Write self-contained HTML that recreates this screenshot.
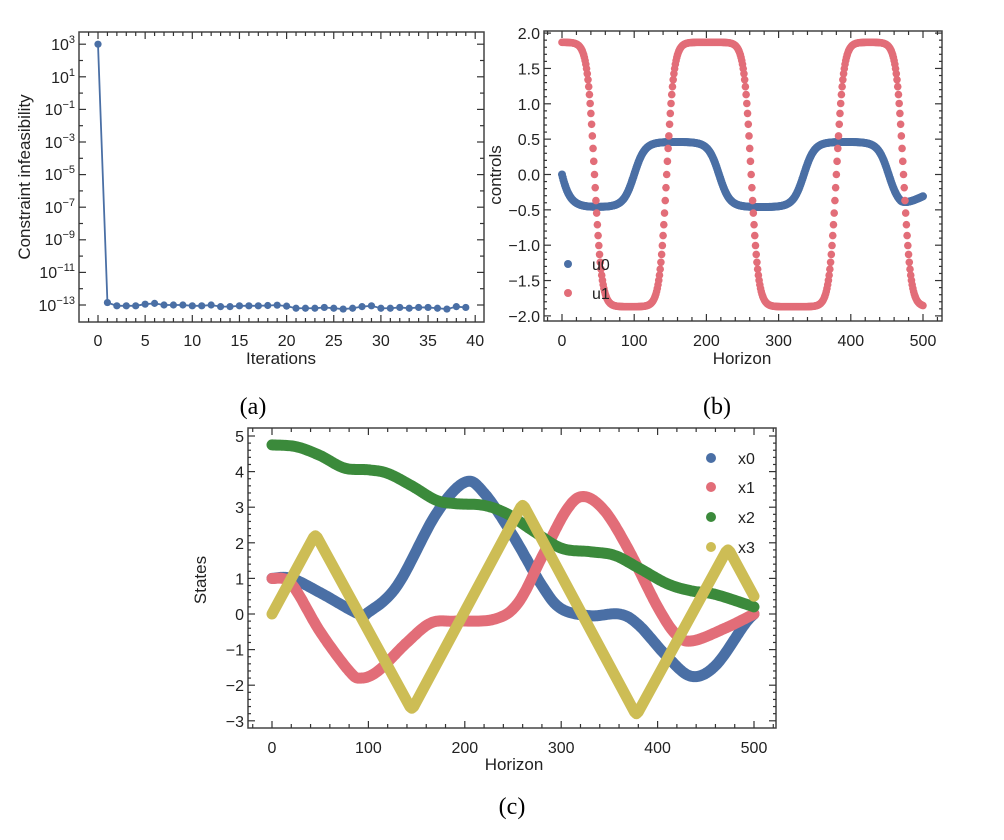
<!DOCTYPE html>
<html><head><meta charset="utf-8"><style>
body{margin:0;background:#fff;}
svg{display:block;font-family:"Liberation Sans","DejaVu Sans",sans-serif;}
.t{font-size:16px;fill:#222;}
.al{font-size:17px;fill:#222;}
.cap{font-family:"Liberation Serif",serif;font-size:24px;fill:#000;}
</style></head><body>
<svg id="s" width="1004" height="840" viewBox="0 0 1004 840" xmlns="http://www.w3.org/2000/svg">
<g class="t" text-anchor="end">
<text x="75" y="50">10<tspan dy="-7" font-size="11">3</tspan></text>
<text x="75" y="83">10<tspan dy="-7" font-size="11">1</tspan></text>
<text x="75" y="115">10<tspan dy="-7" font-size="11">−1</tspan></text>
<text x="75" y="148">10<tspan dy="-7" font-size="11">−3</tspan></text>
<text x="75" y="180">10<tspan dy="-7" font-size="11">−5</tspan></text>
<text x="75" y="213">10<tspan dy="-7" font-size="11">−7</tspan></text>
<text x="75" y="245">10<tspan dy="-7" font-size="11">−9</tspan></text>
<text x="75" y="278">10<tspan dy="-7" font-size="11">−11</tspan></text>
<text x="75" y="311">10<tspan dy="-7" font-size="11">−13</tspan></text>
</g>
<text class="al" x="30" y="177" text-anchor="middle" transform="rotate(-90 30 177)">Constraint infeasibility</text>
<text class="al" x="281" y="364" text-anchor="middle">Iterations</text>
<text class="cap" x="253" y="414" text-anchor="middle">(a)</text>
<text class="al" x="501" y="175" text-anchor="middle" transform="rotate(-90 501 175)">controls</text>
<text class="al" x="742" y="364" text-anchor="middle">Horizon</text>
<text class="cap" x="717" y="414" text-anchor="middle">(b)</text>
<text class="al" x="206" y="580" text-anchor="middle" transform="rotate(-90 206 580)">States</text>
<text class="al" x="514" y="770" text-anchor="middle">Horizon</text>
<text class="cap" x="512" y="814" text-anchor="middle">(c)</text>
<g id="dyn"></g>
</svg>
<script>
const NS="http://www.w3.org/2000/svg";
const g=document.getElementById('dyn');
function el(n,a,txt){const e=document.createElementNS(NS,n);for(const k in a)e.setAttribute(k,a[k]);if(txt!==undefined)e.textContent=txt;g.appendChild(e);return e;}
const BLUE="#4a6fa5",RED="#e26d78",GREEN="#3b8a3b",YEL="#cdbd55";
function frame(x0,y0,x1,y1){el('rect',{x:x0,y:y0,width:x1-x0,height:y1-y0,fill:'none',stroke:'#444','stroke-width':1.5});}
function xt(x,y0,y1,L){el('line',{x1:x,y1:y1,x2:x,y2:y1-L,stroke:'#333','stroke-width':1.2});el('line',{x1:x,y1:y0,x2:x,y2:y0+L,stroke:'#333','stroke-width':1.2});}
function yt(y,x0,x1,L){el('line',{x1:x0,y1:y,x2:x0+L,y2:y,stroke:'#333','stroke-width':1.2});el('line',{x1:x1,y1:y,x2:x1-L,y2:y,stroke:'#333','stroke-width':1.2});}
function label(x,y,s,anchor){el('text',{x:x,y:y,'class':'t','text-anchor':anchor},s);}

{const X=i=>98+i*9.43,Y=l=>305-(l+13)*16.3;
frame(79,32,484,322);
for(let i=-2;i<=41;i++){const x=X(i);if(x<80||x>483)continue;xt(x,32,322,i%5==0?7:4);}
for(let i=0;i<=40;i+=5)label(X(i),346,String(i),'middle');
for(let l=-14;l<=4;l++){const y=Y(l);if(y<33||y>321)continue;yt(y,79,484,l%2?7:4);}
const vals=[3];const off=[0.1,-0.1,-0.1,-0.1,0,0.05,-0.05,-0.05,-0.05,-0.1,-0.1,-0.05,-0.15,-0.15,-0.1,-0.1,-0.1,-0.08,-0.06,-0.12,-0.25,-0.25,-0.25,-0.2,-0.25,-0.3,-0.25,-0.15,-0.1,-0.25,-0.25,-0.2,-0.25,-0.2,-0.2,-0.25,-0.3,-0.15,-0.2];
for(const o of off)vals.push(-13+o+0.05);
el('polyline',{points:vals.map((v,i)=>X(i)+','+Y(v)).join(' '),fill:'none',stroke:BLUE,'stroke-width':1.8});
vals.forEach((v,i)=>el('circle',{cx:X(i),cy:Y(v),r:3.6,fill:BLUE}));}

{const X=t=>562+t*0.722,Y=v=>174.5-v*70.7;
frame(544,31,942,321);
for(let t=-20;t<=520;t+=20){const x=X(t);if(x<545||x>941)continue;xt(x,31,321,t%100==0?7:4);}
for(let t=0;t<=500;t+=100)label(X(t),346,String(t),'middle');
for(let v=-2;v<=2.01;v+=0.1){const y=Y(v);const maj=Math.abs(v*2-Math.round(v*2))<1e-6;yt(y,544,942,maj?7:3);}
[2,1.5,1,0.5,0,-0.5,-1,-1.5,-2].forEach(v=>label(540,Y(v)+6,(v<0?'−':'')+Math.abs(v).toFixed(1),'end'));
const cr=[45,145,262,380,473];
function u1(t){let k=0;while(k<cr.length&&t>cr[k])k++;const s=k%2==0?1:-1;let d=1e9;cr.forEach(c=>d=Math.min(d,Math.abs(t-c)));return 1.87*s*Math.tanh(d/10);}
function u0(t){const a=Math.tanh(2.5*Math.sin(2*Math.PI*(t-100)/235))/Math.tanh(2.5);let v=0.46*a*(1-Math.exp(-t/9));if(t>470)v+=(t-470)/30*0.15;return v;}
for(let t=0;t<=500;t++)el('circle',{cx:X(t),cy:Y(u0(t)),r:4,fill:BLUE});
for(let t=0;t<=500;t++)el('circle',{cx:X(t),cy:Y(u1(t)),r:3.8,fill:RED});
el('circle',{cx:568,cy:264,r:4,fill:BLUE});label(592,270,'u0','start');
el('circle',{cx:568,cy:293,r:4,fill:RED});label(592,299,'u1','start');}

{const X=t=>272+t*0.964,Y=v=>614-v*35.6;
frame(248,428,776,728);
for(let t=-20;t<=540;t+=20){const x=X(t);if(x<249||x>775)continue;xt(x,428,728,t%100==0?7:4);}
for(let t=0;t<=500;t+=100)label(X(t),753,String(t),'middle');
for(let v=-3;v<=5.01;v+=0.2){const y=Y(v);if(y<429||y>727)continue;const maj=Math.abs(v-Math.round(v))<1e-6;yt(y,248,776,maj?7:3);}
for(let v=-3;v<=5;v++)label(244,Y(v)+6,(v<0?'−':'')+Math.abs(v),'end');
function cat(P){const out=[];for(let i=0;i<P.length-1;i++){const p0=P[Math.max(0,i-1)],p1=P[i],p2=P[i+1],p3=P[Math.min(P.length-1,i+2)];for(let s=0;s<20;s++){const u=s/20,u2=u*u,u3=u2*u;const f=(a,b,c,d)=>0.5*((2*b)+(-a+c)*u+(2*a-5*b+4*c-d)*u2+(-a+3*b-3*c+d)*u3);out.push([f(p0[0],p1[0],p2[0],p3[0]),f(p0[1],p1[1],p2[1],p3[1])]);}}out.push(P[P.length-1]);return out;}
const S={
x0:[[0,1.0],[20,1.0],[50,0.6],[90,0],[100,0.05],[130,0.8],[170,2.8],[200,3.7],[220,3.4],[250,2.2],[280,0.8],[300,0.15],[330,-0.05],[360,0],[380,-0.3],[410,-1.2],[435,-1.75],[460,-1.45],[490,-0.3],[500,0]],
x1:[[0,1.0],[20,0.85],[50,-0.5],[80,-1.6],[92,-1.8],[110,-1.6],[140,-0.8],[165,-0.25],[190,-0.2],[230,-0.15],[255,0.3],[280,1.6],[305,2.9],[323,3.3],[345,2.9],[370,1.8],[400,0.2],[420,-0.6],[437,-0.75],[470,-0.4],[500,0]],
x2:[[0,4.75],[25,4.7],[50,4.45],[75,4.1],[100,4.05],[120,3.95],[145,3.6],[170,3.2],[190,3.1],[220,3.05],[245,2.8],[270,2.35],[300,1.85],[330,1.75],[355,1.65],[380,1.3],[410,0.85],[435,0.65],[460,0.55],[500,0.2]],
x3:[[0,0],[43,2.15],[45,2.2],[47,2.15],[143,-2.6],[145,-2.65],[147,-2.6],[258,3.0],[260,3.05],[262,3.0],[376,-2.75],[378,-2.8],[380,-2.75],[471,1.75],[473,1.8],[475,1.75],[500,0.5]]};
const C={x0:BLUE,x1:RED,x2:GREEN,x3:YEL};
for(const k of ['x0','x1','x2','x3']){const P=k=='x3'?S[k]:cat(S[k]);el('polyline',{points:P.map(p=>X(p[0]).toFixed(1)+','+Y(p[1]).toFixed(1)).join(' '),fill:'none',stroke:C[k],'stroke-width':11,'stroke-linecap':'round','stroke-linejoin':'round'});}
[['x0',458],['x1',487],['x2',517],['x3',547]].forEach(([k,y])=>{el('circle',{cx:711,cy:y,r:5,fill:C[k]});label(738,y+6,k,'start');});}
</script>
</body></html>
